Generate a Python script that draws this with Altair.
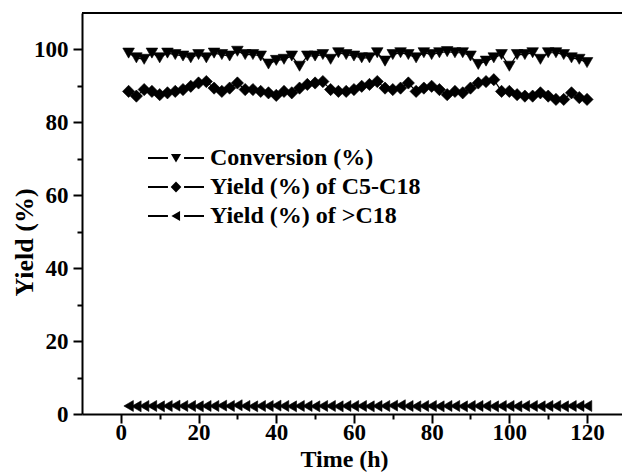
import altair as alt
import pandas as pd

time_h = list(range(2, 121, 2))

conversion = [
    99.0, 97.7, 97.3, 99.0, 97.7, 99.0, 98.6, 98.2, 97.7, 98.6,
    97.7, 99.0, 98.6, 98.2, 99.5, 98.6, 98.6, 98.2, 96.0, 97.0,
    97.3, 98.2, 95.4, 98.2, 98.2, 98.6, 97.3, 99.1, 98.6, 98.2,
    97.7, 97.7, 99.1, 96.8, 98.6, 99.1, 98.6, 97.7, 99.1, 98.6,
    99.1, 99.4, 99.1, 99.1, 98.2, 95.9, 96.8, 97.7, 98.6, 95.4,
    98.6, 98.6, 99.1, 97.3, 99.1, 99.1, 98.6, 97.7, 97.3, 96.4,
]

yield_c5_c18 = [
    88.5, 87.2, 89.0, 88.5, 87.6, 88.1, 88.5, 89.0, 89.9, 90.8,
    91.2, 89.4, 88.5, 89.4, 90.8, 89.0, 89.0, 88.5, 88.1, 87.4,
    88.5, 88.1, 89.4, 90.4, 90.8, 91.2, 89.0, 88.5, 88.5, 89.0,
    89.9, 90.4, 91.2, 89.4, 89.0, 89.4, 90.8, 88.5, 89.4, 89.9,
    89.0, 87.6, 88.5, 88.1, 89.4, 90.8, 91.2, 91.7, 88.5, 88.5,
    87.6, 87.2, 87.2, 88.1, 87.2, 86.3, 86.3, 88.1, 86.8, 86.3,
]

yield_gt_c18 = [
    2.2, 2.1, 2.2, 2.2, 2.1, 2.2, 2.3, 2.2, 2.2, 2.1,
    2.2, 2.2, 2.3, 2.2, 2.4, 2.2, 2.1, 2.2, 2.2, 2.3,
    2.2, 2.1, 2.2, 2.2, 2.1, 2.2, 2.2, 2.1, 2.2, 2.2,
    2.2, 2.1, 2.2, 2.2, 2.3, 2.4, 2.2, 2.1, 2.2, 2.2,
    2.1, 2.2, 2.2, 2.1, 2.2, 2.2, 2.2, 2.1, 2.2, 2.2,
    2.1, 2.2, 2.2, 2.1, 2.2, 2.2, 2.1, 2.2, 2.2, 2.2,
]

series_names = ["Conversion (%)", "Yield (%) of C5-C18", "Yield (%) of >C18"]
series_values = [conversion, yield_c5_c18, yield_gt_c18]
marker_shapes = ["triangle-down", "diamond", "triangle-left"]
marker_sizes = [135, 150, 120]

x_ticks = list(range(0, 121, 10))
y_ticks = list(range(0, 101, 10))

rows = []
for name, vals in zip(series_names, series_values):
    for t, v in zip(time_h, vals):
        rows.append({"time": t, "value": v, "series": name})
df = pd.DataFrame(rows)

FONT = "Liberation Serif, Times New Roman, serif"
W, H = 540, 401

x_scale = alt.Scale(domain=[-10, 129], nice=False, zero=False)
y_scale = alt.Scale(domain=[0, 110], nice=False, zero=False)

x_axis = alt.Axis(
    values=x_ticks,
    labelExpr="datum.value % 20 === 0 ? datum.label : ''",
    tickSize={"condition": {"test": "datum.value % 20 === 0", "value": 9}, "value": 5},
    title="Time (h)",
    titleX=262,
    titlePadding=3,
    labelPadding=-2,
    grid=False,
    labelOverlap=False,
    labelFlush=False,
)
y_axis = alt.Axis(
    values=y_ticks,
    labelExpr="datum.value % 20 === 0 ? datum.label : ''",
    tickSize={"condition": {"test": "datum.value % 20 === 0", "value": 9}, "value": 5},
    title="Yield (%)",
    titleX=-45,
    titleY=229,
    titleFontSize=26,
    labelPadding=5,
    grid=False,
    labelOverlap=False,
)

base = alt.Chart(df)

enc_x = alt.X("time:Q", scale=x_scale, axis=x_axis)
enc_y = alt.Y("value:Q", scale=y_scale, axis=y_axis)

layers = []
for name, shp, sz in zip(series_names, marker_shapes, marker_sizes):
    line = base.transform_filter(alt.datum.series == name).mark_line(
        color="black", strokeWidth=1.2
    ).encode(x=enc_x, y=enc_y)
    pts = base.transform_filter(alt.datum.series == name).mark_point(
        shape=shp, size=sz, filled=True, color="black", opacity=1,
        stroke="black", strokeWidth=0.6
    ).encode(x=enc_x, y=enc_y)
    layers += [line, pts]

legend_paths = [
    "M-4,-0.14H-1.15V0.14H-4ZM1.15,-0.14H4V0.14H1.15ZM-0.72,-0.58L0.72,-0.58L0,0.66Z",
    "M-4,-0.14H-1.15V0.14H-4ZM1.15,-0.14H4V0.14H1.15ZM0,-0.8L0.76,0L0,0.8L-0.76,0Z",
    "M-4,-0.14H-1.15V0.14H-4ZM1.15,-0.14H4V0.14H1.15ZM0.58,-0.72L0.58,0.72L-0.66,0Z",
]

legend_layer = base.transform_filter("false").mark_point(filled=True, color="black").encode(
    x=enc_x,
    y=enc_y,
    shape=alt.Shape(
        "series:N",
        scale=alt.Scale(domain=series_names, range=legend_paths),
        legend=alt.Legend(
            title=None,
            orient="none",
            legendX=82,
            legendY=133,
            symbolSize=196,
            symbolFillColor="black",
            symbolStrokeColor="black",
            symbolStrokeWidth=0.5,
            symbolOpacity=1,
            labelOffset=22,
            labelFont=FONT,
            labelFontWeight="bold",
            labelFontSize=24,
            labelColor="black",
            rowPadding=5,
            labelLimit=400,
        ),
    ),
)

top_line = alt.Chart(df).mark_rule(color="black", strokeWidth=2).encode(
    x=alt.value(0), x2=alt.value(W), y=alt.value(0)
)

chart = alt.layer(*layers, legend_layer, top_line).properties(
    width=W,
    height=H,
    autosize=alt.AutoSizeParams(type="none"),
    padding={"left": 82, "top": 13, "right": 0, "bottom": 62},
    background="white",
).configure_view(stroke=None).configure_axis(
    domainColor="black",
    domainWidth=2,
    tickColor="black",
    tickWidth=2,
    labelFont=FONT,
    labelFontWeight="bold",
    labelFontSize=23,
    labelColor="black",
    titleFont=FONT,
    titleFontWeight="bold",
    titleFontSize=24,
    titleColor="black",
)

chart.save("out.html", embed_options={"renderer": "svg", "actions": False})
